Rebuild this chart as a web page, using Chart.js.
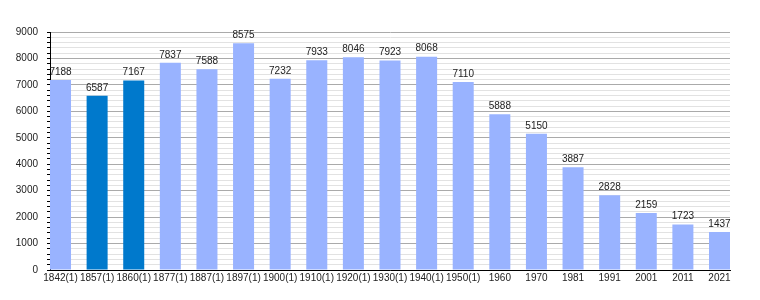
<!DOCTYPE html>
<html>
<head>
<meta charset="utf-8">
<script src="https://cdn.jsdelivr.net/npm/chart.js@4"></script>
<style>
  html, body { margin: 0; padding: 0; background: #fff; }
  #wrap { width: 760px; height: 300px; }
</style>
</head>
<body>
<div id="wrap"><canvas id="myChart"></canvas></div>
<script>
let years = [
  "1842(1)", "1857(1)", "1860(1)", "1877(1)", "1887(1)", "1897(1)", "1900(1)",
  "1910(1)", "1920(1)", "1930(1)", "1940(1)", "1950(1)", "1960", "1970",
  "1981", "1991", "2001", "2011", "2021"
];
let population = [
  7188, 6587, 7167, 7837, 7588, 8575, 7232, 7933, 8046, 7923, 8068, 7110,
  5888, 5150, 3887, 2828, 2159, 1723, 1437
];
let highlighted = ["1857(1)", "1860(1)"];
let yMax = 9000;

let barColors = years.map(y => highlighted.includes(y) ? "#0079cc" : "#99b3ff");
let points = population.map((v, i) => ({ x: i, y: v }));
let font = "'Liberation Sans', Arial, sans-serif";

// writes the value above each bar
let valueLabels = {
  id: "valueLabels",
  afterDatasetsDraw(chart) {
    let c = chart.ctx;
    let meta = chart.getDatasetMeta(0);
    c.save();
    c.font = "10px " + font;
    c.fillStyle = "#222";
    c.textAlign = "center";
    c.textBaseline = "bottom";
    meta.data.forEach((bar, i) => {
      c.fillText(population[i], bar.x, bar.y - 3);
    });
    c.restore();
  }
};

let ctx = document.getElementById("myChart");
let chartt = new Chart(ctx, {
  type: "bar",
  data: {
    datasets: [{
      data: points,
      backgroundColor: barColors,
      borderWidth: 0,
      barPercentage: 0.574,
      categoryPercentage: 1
    }]
  },
  options: {
    responsive: true,
    maintainAspectRatio: false,
    animation: false,
    layout: { padding: { top: 32, right: 30, left: 0, bottom: 0 } },
    plugins: {
      legend: { display: false },
      tooltip: { enabled: false }
    },
    scales: {
      x: {
        type: "linear",
        min: -0.287,
        max: years.length - 1 + 0.287,
        offset: false,
        grid: { display: false, drawTicks: false },
        border: { display: true, color: "#000", width: 1 },
        afterBuildTicks(scale) {
          scale.ticks = years.map((_, i) => ({ value: i }));
        },
        ticks: {
          color: "#222",
          font: { family: font, size: 10 },
          maxRotation: 0,
          autoSkip: false,
          padding: 2,
          callback: v => years[v]
        },
        afterFit(scale) { scale.height = 30; }
      },
      y: {
        min: 0,
        max: yMax,
        border: { display: true, color: "#000", width: 1 },
        grid: {
          color: c => c.tick && c.tick.value % 1000 === 0 ? "#aaaaaa" : "#e2e2e2",
          tickColor: "#000",
          tickLength: 3,
          lineWidth: 1
        },
        ticks: {
          stepSize: 200,
          autoSkip: false,
          color: "#222",
          font: { family: font, size: 10 },
          padding: 9,
          callback: v => v % 1000 === 0 ? String(v) : ""
        },
        afterFit(scale) { scale.width = 50; }
      }
    }
  },
  plugins: [valueLabels]
});
</script>
</body>
</html>
